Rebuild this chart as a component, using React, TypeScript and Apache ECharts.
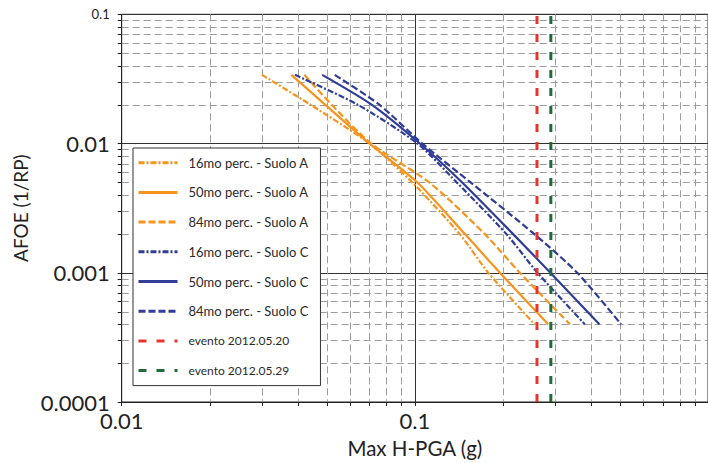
import React, { useEffect, useRef } from "react";
import * as echarts from "echarts";

// AFOE levels (1/RP) at which the curves are read
const afoe = [0.034, 0.02, 0.01, 0.005, 0.002, 0.001, 0.0004];

// Max H-PGA (g) per curve, one value per AFOE level
const pgaA16 = [0.0301, 0.044, 0.07, 0.098, 0.142, 0.178, 0.256];
const pgaA50 = [0.0379, 0.0494, 0.07, 0.102, 0.148, 0.195, 0.285];
const pgaA84 = [0.042, 0.052, 0.071, 0.112, 0.173, 0.228, 0.338];
const pgaC16 = [0.039, 0.0638, 0.102, 0.139, 0.205, 0.262, 0.38];
const pgaC50 = [0.0483, 0.0712, 0.104, 0.145, 0.216, 0.29, 0.426];
const pgaC84 = [0.0533, 0.0756, 0.106, 0.155, 0.255, 0.358, 0.505];

// seismic events (PGA, g)
const eventNames = ["evento 2012.05.20", "evento 2012.05.29"];
const eventPga = [0.261, 0.291];

const seriesNames = [
  "16mo perc. - Suolo A",
  "50mo perc. - Suolo A",
  "84mo perc. - Suolo A",
  "16mo perc. - Suolo C",
  "50mo perc. - Suolo C",
  "84mo perc. - Suolo C",
];

const xTickLabels = ["0.01", "0.1", "1"];
const yTickLabels = ["0.0001", "0.001", "0.01", "0.1"];
const minorMultipliers = [2, 3, 4, 5, 6, 7, 8, 9];
const xDecades = [0.01, 0.1];
const yDecades = [0.0001, 0.001, 0.01];

const FONT = "Lato";
const ORANGE = "#f7941d";
const BLUE = "#2f3d96";
const RED = "#e8342f";
const GREEN = "#1f6b38";

function findLabel(labels: string[], v: number) {
  const s = labels.find((l) => Math.abs(Math.log10(parseFloat(l)) - Math.log10(v)) < 1e-6);
  return s ?? "";
}

export default function App() {
  const ref = useRef<HTMLDivElement>(null);
  useEffect(() => {
    if (!ref.current) return;
    const chart = echarts.init(ref.current, undefined, { renderer: "svg" });

    const minorData: number[][] = [];
    xDecades.forEach((d) => minorMultipliers.forEach((m) => minorData.push([d * m, 0.001, 0])));
    yDecades.forEach((d) => minorMultipliers.forEach((m) => minorData.push([0.1, d * m, 1])));

    const curves = [pgaA16, pgaA50, pgaA84, pgaC16, pgaC50, pgaC84];
    const dashes: any[] = [
      [6, 2, 2, 2],
      "solid",
      [7, 3],
      [6, 2, 2, 2],
      "solid",
      [7, 3],
    ];
    const colors = [ORANGE, ORANGE, ORANGE, BLUE, BLUE, BLUE];

    const lineSeries = curves.map((c, i) => ({
      name: seriesNames[i],
      type: "line",
      data: c.map((x, j) => [x, afoe[j]]),
      symbol: "none",
      showSymbol: false,
      smooth: 0.25,
      z: 3,
      lineStyle: { color: colors[i], width: 2.2, type: dashes[i] },
      itemStyle: { color: colors[i] },
    }));

    const eventSeries = eventPga.map((x, i) => ({
      name: eventNames[i],
      type: "line",
      data: [
        [x, 0.0001],
        [x, 0.1],
      ],
      symbol: "none",
      showSymbol: false,
      z: 4,
      lineStyle: { color: i === 0 ? RED : GREEN, width: 3, type: [8, 10] },
      itemStyle: { color: i === 0 ? RED : GREEN },
    }));

    const option: any = {
      animation: false,
      backgroundColor: "#ffffff",
      textStyle: { fontFamily: FONT },
      grid: {
        left: 121.7,
        top: 14.3,
        right: -3.5,
        bottom: 60.7,
        show: true,
        borderColor: "#222",
        borderWidth: 1,
        backgroundColor: "transparent",
      },
      legend: {
        orient: "vertical",
        left: 133,
        top: 148,
        itemWidth: 39,
        itemHeight: 14,
        itemGap: 15.7,
        padding: [7.7, 12, 8, 4],
        backgroundColor: "#fff",
        borderColor: "#333",
        borderWidth: 1,
        borderRadius: 0,
        z: 10,
        itemStyle: { opacity: 0, borderWidth: 0 },
        lineStyle: { width: 3 },
        textStyle: {
          fontFamily: FONT,
          fontSize: 13,
          lineHeight: 14,
          color: "#2a2a2a",
          padding: [0, 0, 0, 6],
        },
        data: [
          ...seriesNames.map((n) => ({ name: n })),
          ...eventNames.map((n) => ({ name: n, textStyle: { fontSize: 12 } })),
        ],
      },
      xAxis: {
        type: "log",
        logBase: 10,
        min: 0.01,
        max: 1,
        name: "Max H-PGA (g)",
        nameLocation: "middle",
        nameGap: 35,
        nameTextStyle: { fontFamily: FONT, fontSize: 20.5, color: "#222" },
        axisLine: { show: true, lineStyle: { color: "#222", width: 1 } },
        axisTick: { show: true, length: 4, inside: false, lineStyle: { color: "#222" } },
        axisLabel: {
          fontFamily: FONT,
          fontSize: 22,
          color: "#222",
          margin: 7,
          showMaxLabel: false,
          formatter: (v: number) => findLabel(xTickLabels, v),
        },
        splitLine: { show: true, lineStyle: { color: "#333", width: 1 } },
        minorTick: { show: false },
        minorSplitLine: { show: false },
      },
      yAxis: {
        type: "log",
        logBase: 10,
        min: 0.0001,
        max: 0.1,
        name: "AFOE (1/RP)",
        nameLocation: "middle",
        nameGap: 87,
        nameRotate: 90,
        nameTextStyle: { fontFamily: FONT, fontSize: 19, color: "#222" },
        axisLine: { show: true, lineStyle: { color: "#222", width: 1 } },
        axisTick: { show: true, length: 4, inside: false, lineStyle: { color: "#222" } },
        axisLabel: {
          fontFamily: FONT,
          fontSize: 22,
          color: "#222",
          margin: 12,
          formatter: (v: number) => {
            const s = findLabel(yTickLabels, v);
            return s === "0.1" ? "{s|0.1}" : s;
          },
          rich: { s: { fontFamily: FONT, fontSize: 13, color: "#222" } },
        },
        splitLine: { show: true, lineStyle: { color: "#333", width: 1 } },
      },
      series: [
        {
          name: "minor-grid",
          type: "custom",
          z: 1,
          silent: true,
          clip: false,
          data: minorData,
          renderItem: (params: any, api: any) => {
            const cs = params.coordSys;
            const kind = api.value(2);
            const p = api.coord([api.value(0), api.value(1)]);
            if (kind === 0) {
              const x = Math.round(p[0]) + 0.5;
              const b = cs.y + cs.height;
              return {
                type: "group",
                children: [
                  {
                    type: "line",
                    shape: { x1: x, y1: cs.y, x2: x, y2: b },
                    style: { stroke: "#9c9c9c", lineWidth: 1, lineDash: [7, 4] },
                  },
                  {
                    type: "line",
                    shape: { x1: x, y1: b, x2: x, y2: b + 4 },
                    style: { stroke: "#222", lineWidth: 1 },
                  },
                ],
              };
            }
            const y = Math.round(p[1]) + 0.5;
            return {
              type: "group",
              children: [
                {
                  type: "line",
                  shape: { x1: cs.x, y1: y, x2: cs.x + cs.width, y2: y },
                  style: { stroke: "#9c9c9c", lineWidth: 1, lineDash: [7, 4] },
                },
                {
                  type: "line",
                  shape: { x1: cs.x - 4, y1: y, x2: cs.x, y2: y },
                  style: { stroke: "#222", lineWidth: 1 },
                },
              ],
            };
          },
        },
        ...lineSeries,
        ...eventSeries,
      ],
    };
    chart.setOption(option);
    return () => chart.dispose();
  }, []);
  return (
    <div
      ref={ref}
      style={{ position: "fixed", left: 0, top: 0, width: 708, height: 463, background: "#fff" }}
    />
  );
}
